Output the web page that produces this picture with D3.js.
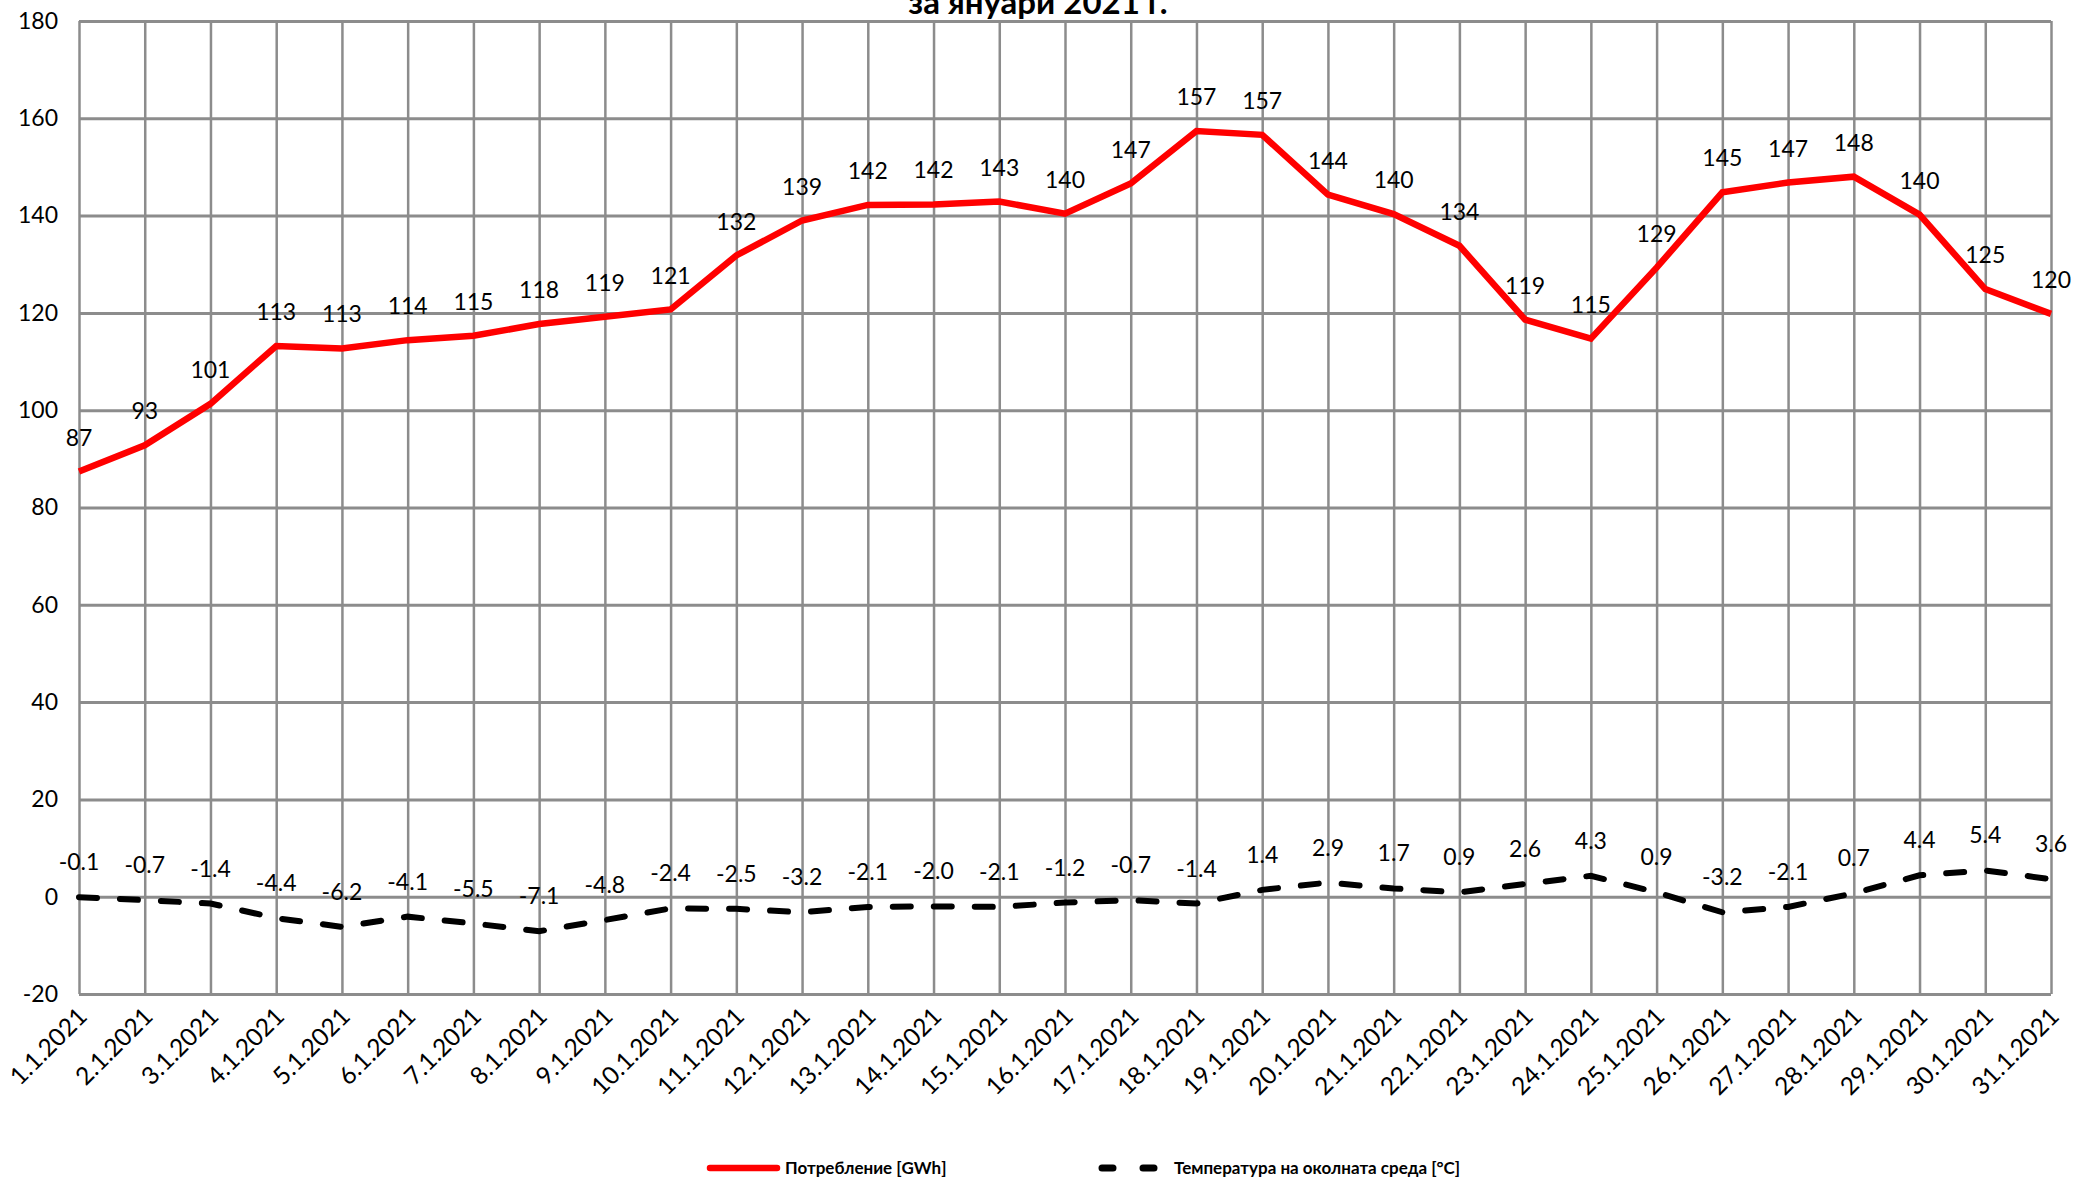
<!DOCTYPE html>
<html><head><meta charset="utf-8">
<script src="https://cdn.jsdelivr.net/npm/d3@7"></script>
<style>
html,body{margin:0;padding:0;background:#fff;}
text{font-family:Lato,"Open Sans",sans-serif;}
</style></head>
<body><svg id="c" width="2073" height="1181"></svg>
<script>
const categories = ["1.1.2021","2.1.2021","3.1.2021","4.1.2021","5.1.2021","6.1.2021","7.1.2021","8.1.2021","9.1.2021","10.1.2021","11.1.2021","12.1.2021","13.1.2021","14.1.2021","15.1.2021","16.1.2021","17.1.2021","18.1.2021","19.1.2021","20.1.2021","21.1.2021","22.1.2021","23.1.2021","24.1.2021","25.1.2021","26.1.2021","27.1.2021","28.1.2021","29.1.2021","30.1.2021","31.1.2021"];
const consumption = [87.4,92.8,101.3,113.2,112.7,114.4,115.3,117.7,119.2,120.7,131.8,139.0,142.2,142.3,142.9,140.4,146.6,157.4,156.6,144.3,140.3,133.8,118.6,114.7,129.3,144.8,146.8,148.0,140.2,124.9,119.8];
const temperature = [-0.1,-0.7,-1.4,-4.4,-6.2,-4.1,-5.5,-7.1,-4.8,-2.4,-2.5,-3.2,-2.1,-2.0,-2.1,-1.2,-0.7,-1.4,1.4,2.9,1.7,0.9,2.6,4.3,0.9,-3.2,-2.1,0.7,4.4,5.4,3.6];
const yTicks = [-20,0,20,40,60,80,100,120,140,160,180];
const titleText = "за януари 2021 г.";
const seriesNames = ["Потребление [GWh]","Температура на околната среда [°C]"];

const svg = d3.select("#c");
const L = 79, R = 2051, T = 21, B = 994;
const x = d3.scalePoint().domain(categories).range([L, R]);
const y = d3.scaleLinear().domain([-20, 180]).range([B, T]);
const grid = "#8c8c8c";
const FS = 23;

// horizontal grid + y labels
const ya = svg.append("g").attr("transform", `translate(${L},0)`)
  .call(d3.axisLeft(y).tickValues(yTicks).tickSize(-(R - L)).tickPadding(21).tickFormat(d => String(d)));
ya.select(".domain").remove();
ya.selectAll(".tick line").attr("stroke", grid).attr("stroke-width", 3);
ya.selectAll(".tick text").attr("font-size", FS).attr("fill", "#000").attr("font-family", "Lato");

// vertical grid + x labels
const xa = svg.append("g").attr("transform", `translate(0,${B})`)
  .call(d3.axisBottom(x).tickSize(-(B - T)).tickPadding(0));
xa.select(".domain").remove();
xa.selectAll(".tick line").attr("stroke", grid).attr("stroke-width", 2.5);
xa.selectAll(".tick text")
  .attr("font-size", 24.5).attr("fill", "#000").attr("font-family", "Lato")
  .attr("text-anchor", "end").attr("dy", null).attr("y", 0)
  .attr("transform", "translate(9,24) rotate(-45)");

// title
svg.append("text").attr("x", 1038).attr("y", 14).attr("text-anchor", "middle")
  .attr("font-size", 33).attr("font-weight", "bold").attr("fill", "#000").text(titleText);

// lines
const line = d3.line().x((d, i) => x(categories[i])).y(d => y(d));
svg.append("path").datum(consumption).attr("d", line).attr("fill", "none")
  .attr("stroke", "#ff0000").attr("stroke-width", 6.5).attr("stroke-linejoin", "miter");
svg.append("path").datum(temperature).attr("d", line).attr("fill", "none")
  .attr("stroke", "#000").attr("stroke-width", 6).attr("stroke-dasharray", "18,23").attr("stroke-linecap", "round");

// data labels
svg.append("g").selectAll("text").data(consumption).join("text")
  .attr("x", (d, i) => x(categories[i])).attr("y", d => y(d) - 34).attr("dy", "0.35em")
  .attr("text-anchor", "middle").attr("font-size", FS).attr("fill", "#000")
  .text(d => String(Math.round(d)));
svg.append("g").selectAll("text").data(temperature).join("text")
  .attr("x", (d, i) => x(categories[i])).attr("y", d => y(d) - 35).attr("dy", "0.35em")
  .attr("text-anchor", "middle").attr("font-size", FS).attr("fill", "#000")
  .text(d => d.toFixed(1));

// legend
const lg = svg.append("g");
lg.append("line").attr("x1", 710).attr("x2", 777).attr("y1", 1168).attr("y2", 1168)
  .attr("stroke", "#ff0000").attr("stroke-width", 6.5).attr("stroke-linecap", "round");
lg.append("text").attr("x", 785).attr("y", 1168).attr("dy", "0.35em").attr("font-size", 17)
  .attr("font-weight", "bold").attr("fill", "#000").text(seriesNames[0]);
lg.append("line").attr("x1", 1102).attr("x2", 1160).attr("y1", 1168).attr("y2", 1168)
  .attr("stroke", "#000").attr("stroke-width", 7).attr("stroke-dasharray", "11,30").attr("stroke-linecap", "round");
lg.append("text").attr("x", 1174).attr("y", 1168).attr("dy", "0.35em").attr("font-size", 17)
  .attr("font-weight", "bold").attr("fill", "#000").text(seriesNames[1]);
</script></body></html>
